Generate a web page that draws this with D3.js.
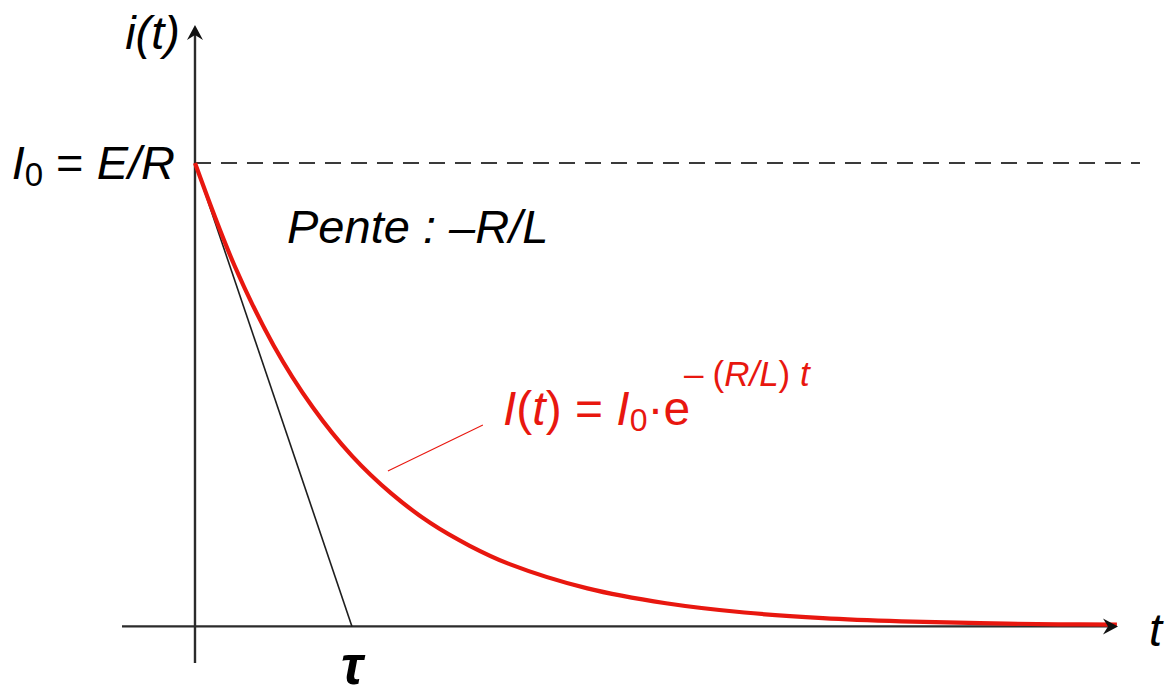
<!DOCTYPE html>
<html>
<head>
<meta charset="utf-8">
<script src="https://cdn.jsdelivr.net/npm/d3@7"></script>
<style>
  html, body { margin: 0; padding: 0; background: #fff; }
  svg { display: block; }
  text { font-family: "Liberation Sans", Arial, sans-serif; }
</style>
</head>
<body>
<svg id="chart" width="1167" height="695"></svg>
<script>
// RL circuit discharge: current decay i(t), time expressed in units of tau = L/R,
// current expressed as a fraction of I0 = E/R.
const curveT = [0, 0.25, 0.5, 0.75, 1.0, 1.25, 1.5, 1.75, 2.0, 2.5,
                3.0, 3.5, 4.0, 4.5, 5.0, 5.5, 5.873];
const curveI = [1, 0.78, 0.607, 0.473, 0.368, 0.287, 0.223, 0.174, 0.135, 0.082,
                0.05, 0.03, 0.018, 0.011, 0.007, 0.0045, 0.004];

// Tangent at the origin (slope -R/L) reaching zero at t = tau
const tangentT = [0, 1];
const tangentI = [1, 0];

// Axis extents (in tau and I0 units)
const tAxis = [-0.465, 5.88];
const iAxis = [-0.079, 1.298];
const dashEnd = 6.02;

// Labels
const yLabel = "i(t)";
const xLabel = "t";
const tauLabel = "τ";
const slopeLabel = "Pente : –R/L";

const svg = d3.select("#chart");

const x = d3.scaleLinear().domain(tAxis).range([122, 1118]);
const y = d3.scaleLinear().domain(iAxis).range([663, 25]);

const axisColor = "#2b2b2b";
const red = "#e8170f";

// Dashed asymptote level I0
svg.append("line")
  .attr("x1", x(0)).attr("x2", x(dashEnd))
  .attr("y1", y(1)).attr("y2", y(1))
  .attr("stroke", "#3a3a3a").attr("stroke-width", 2)
  .attr("stroke-dasharray", "16,10");

// Axes
svg.append("line")
  .attr("x1", x(0)).attr("x2", x(0))
  .attr("y1", y(iAxis[0])).attr("y2", y(iAxis[1]) + 6)
  .attr("stroke", axisColor).attr("stroke-width", 2.4);
svg.append("line")
  .attr("x1", x(tAxis[0])).attr("x2", x(tAxis[1]) - 6)
  .attr("y1", y(0)).attr("y2", y(0))
  .attr("stroke", axisColor).attr("stroke-width", 2.4);

// Tangent line
const tangentData = tangentT.map((t, k) => [t, tangentI[k]]);
svg.append("path")
  .datum(tangentData)
  .attr("d", d3.line().x(d => x(d[0])).y(d => y(d[1])))
  .attr("fill", "none").attr("stroke", "#1e1e1e").attr("stroke-width", 1.6);

// Decay curve
const curveData = curveT.map((t, k) => [t, curveI[k]]);
svg.append("path")
  .datum(curveData)
  .attr("d", d3.line().x(d => x(d[0])).y(d => y(d[1])).curve(d3.curveCatmullRom.alpha(0.5)))
  .attr("fill", "none").attr("stroke", red).attr("stroke-width", 4.2)
  .attr("stroke-linecap", "butt");

// Arrowheads
function arrowHead(tx, ty, angle) {
  const g = svg.append("g").attr("transform", `translate(${tx},${ty}) rotate(${angle})`);
  g.append("path")
    .attr("d", "M0,0 L-15,-8 L-10,0 L-15,8 Z")
    .attr("fill", "#111");
}
arrowHead(x(0), y(iAxis[1]), -90);
arrowHead(x(tAxis[1]), y(0), 0);

// Leader from formula to the curve
svg.append("line")
  .attr("x1", x(1.229)).attr("y1", y(0.3355))
  .attr("x2", x(1.834)).attr("y2", y(0.4347))
  .attr("stroke", red).attr("stroke-width", 1.1);

// Axis labels
svg.append("text")
  .attr("x", x(0) - 15).attr("y", 49)
  .attr("text-anchor", "end")
  .attr("font-size", 47).attr("font-style", "italic")
  .text(yLabel);

svg.append("text")
  .attr("x", 1149).attr("y", y(0) + 20)
  .attr("font-size", 47).attr("font-style", "italic")
  .text(xLabel);

// I0 = E/R
const i0 = svg.append("text")
  .attr("x", x(0) - 20).attr("y", y(1) + 16)
  .attr("text-anchor", "end")
  .attr("font-size", 47);
i0.append("tspan").attr("font-style", "italic").text("I");
i0.append("tspan").attr("font-size", 33).attr("dy", 7).text("0");
i0.append("tspan").attr("dy", -7).text(" = ");
i0.append("tspan").attr("font-style", "italic").text("E/R");

// Slope annotation
svg.append("text")
  .attr("x", 287).attr("y", 243)
  .attr("font-size", 47).attr("font-style", "italic")
  .text(slopeLabel);

// Formula
const f = svg.append("text")
  .attr("x", 503).attr("y", 425)
  .attr("font-size", 48).attr("fill", red);
f.append("tspan").attr("font-style", "italic").text("I");
f.append("tspan").text("(");
f.append("tspan").attr("font-style", "italic").text("t");
f.append("tspan").text(") = ");
f.append("tspan").attr("font-style", "italic").text("I");
f.append("tspan").attr("font-size", 32).attr("dy", 6).text("0");
f.append("tspan").attr("dy", -6).text("·e");

// Exponent
const sup = svg.append("text")
  .attr("x", 684).attr("y", 386)
  .attr("font-size", 35).attr("fill", red);
sup.append("tspan").text("–");
sup.append("tspan").attr("dx", 9).text("(");
sup.append("tspan").attr("font-style", "italic").text("R/L");
sup.append("tspan").text(") ");
sup.append("tspan").attr("font-style", "italic").text("t");

// Tau marker under the tangent's intercept
svg.append("text")
  .attr("x", x(1)).attr("y", 684)
  .attr("text-anchor", "middle")
  .attr("font-family", "'DejaVu Serif', 'Liberation Serif', serif")
  .attr("font-size", 54).attr("font-weight", "bold").attr("font-style", "italic")
  .text(tauLabel);
</script>
</body>
</html>
